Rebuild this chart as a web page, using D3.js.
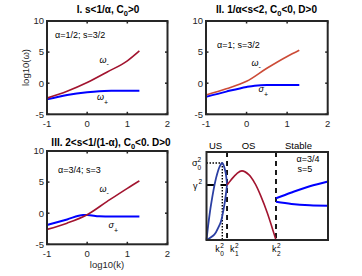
<!DOCTYPE html>
<html>
<head>
<meta charset="utf-8">
<script src="https://cdn.jsdelivr.net/npm/d3@7"></script>
<style>
  body { margin: 0; background: #fff; }
  svg { display: block; font-family: "Liberation Sans", Arial, sans-serif; }
</style>
</head>
<body>
<div id="chart"></div>
<script>
// axis ticks shared by panels I-III
const xTicks = [-1, 0, 1, 2];
const yTicks = [-5, 0, 5, 10];

// panel I : alpha=1/2, s=3/2
const logK1 = [-1, -0.5, 0, 0.5, 1, 1.3];
const omegaMinus1 = [-2.4, -1.3, 0.1, 1.8, 3.6, 5.2];
const logKp1 = [-1, -0.5, 0, 0.3, 0.6, 1, 1.3];
const omegaPlus1 = [-2.6, -1.9, -1.45, -1.28, -1.22, -1.2, -1.2];

// panel II : alpha=1, s=3/2
const logK2 = [-1, -0.5, 0, 0.5, 1, 1.3];
const omegaMinus2 = [-1.9, -0.9, 0.3, 2.4, 4.3, 5.3];
const logKp2 = [-1, -0.5, 0, 0.2, 0.5, 1, 1.3];
const sigmaPlus2 = [-2.2, -1.35, -0.6, -0.4, -0.3, -0.3, -0.3];

// panel III : alpha=3/4, s=3
const logK3 = [-1, -0.5, 0, 0.5, 1, 1.3];
const omegaMinus3 = [-2.6, -1.6, -0.25, 1.9, 4.0, 5.2];
const logKp3 = [-1, -0.5, -0.1, 0, 0.3, 0.6, 1, 1.3];
const sigmaPlus3 = [-1.9, -1.0, -0.3, -0.3, -0.5, -0.55, -0.55, -0.55];

// panel IV : alpha=3/4, s=5 (k^2 vs growth rate, arbitrary units 0..10)
const k0 = 1.3, k1 = 1.69, k2 = 5.72;
const sigma0 = 8.75, gamma = 6.25;
const lensUpperK = [0, 0.15, 0.37, 0.78, 1.1, 1.3, 1.55, 1.69];
const lensUpperS = [0, 1.8, 4.0, 7.0, 8.4, 8.75, 7.8, 6.25];
const lensLowerK = [0, 0.64, 1.0, 1.19, 1.47, 1.66, 1.69];
const lensLowerS = [0, 0.6, 1.5, 2.1, 4.0, 5.9, 6.25];
const osK = [1.69, 2.0, 2.5, 2.92, 3.5, 4.0, 4.5, 5.0, 5.4, 5.72];
const osS = [6.25, 6.8, 7.55, 7.85, 7.4, 6.4, 4.9, 3.1, 1.4, 0];
const stableK = [5.72, 7, 8.5, 10];
const stableUpper = [4.75, 5.4, 6.1, 6.65];
const stableLower = [4.35, 4.1, 3.95, 3.9];

const width = 362, height = 276;
const frameColor = '#262626';
const darkRed = '#A2142F';
const brickRed = '#CC4B37';

const svg = d3.select('#chart').append('svg')
  .attr('width', width)
  .attr('height', height);

svg.append('rect').attr('width', width).attr('height', height).attr('fill', '#fff');

const zip = (xs, ys) => xs.map((x, i) => [x, ys[i]]);

function drawLine(g, x, y, pts, color, w, curve) {
  g.append('path')
    .datum(pts)
    .attr('fill', 'none')
    .attr('stroke', color)
    .attr('stroke-width', w)
    .attr('stroke-linejoin', 'round')
    .attr('d', d3.line().x(d => x(d[0])).y(d => y(d[1])).curve(curve || d3.curveMonotoneX));
}

// text with a sub script
function label(g, px, py, main, sub, opts = {}) {
  const t = g.append('text')
    .attr('x', px).attr('y', py)
    .style('font-size', (opts.size || 9) + 'px')
    .style('font-style', opts.italic ? 'italic' : 'normal')
    .attr('fill', '#000')
    .text(main);
  if (sub) {
    t.append('tspan').attr('dy', opts.dy || 4).style('font-size', '7px').style('font-style', 'normal').text(sub);
  }
  return t;
}

// frame + inward ticks, MATLAB "box on"
function frame(x, y, withTicks) {
  const g = svg.append('g');
  const [x0, x1] = x.range();
  const [y0, y1] = y.range();
  if (withTicks) {
    xTicks.forEach(t => {
      g.append('line').attr('x1', x(t)).attr('x2', x(t)).attr('y1', y0).attr('y2', y0 - 2.5)
        .attr('stroke', frameColor).attr('stroke-width', 1.5);
      g.append('line').attr('x1', x(t)).attr('x2', x(t)).attr('y1', y1).attr('y2', y1 + 2.5)
        .attr('stroke', frameColor).attr('stroke-width', 1.5);
      g.append('text').attr('x', x(t)).attr('y', y0 + 13)
        .attr('text-anchor', 'middle').style('font-size', '9.5px').attr('fill', frameColor)
        .text(t);
    });
    yTicks.forEach(t => {
      g.append('line').attr('x1', x0).attr('x2', x0 + 2.5).attr('y1', y(t)).attr('y2', y(t))
        .attr('stroke', frameColor).attr('stroke-width', 1.5);
      g.append('line').attr('x1', x1).attr('x2', x1 - 2.5).attr('y1', y(t)).attr('y2', y(t))
        .attr('stroke', frameColor).attr('stroke-width', 1.5);
      g.append('text').attr('x', x0 - 3).attr('y', y(t) + 3.3)
        .attr('text-anchor', 'end').style('font-size', '9.5px').attr('fill', frameColor)
        .text(t);
    });
  }
  g.append('rect')
    .attr('x', x0).attr('y', y1)
    .attr('width', x1 - x0).attr('height', y0 - y1)
    .attr('fill', 'none').attr('stroke', frameColor).attr('stroke-width', 2);
  return g;
}

function title(cx, cy, before, sub, after) {
  const t = svg.append('text')
    .attr('x', cx).attr('y', cy)
    .attr('text-anchor', 'middle')
    .style('font-size', '10px').style('font-weight', 'bold')
    .attr('fill', '#000')
    .text(before);
  t.append('tspan').attr('dy', 3).style('font-size', '7.5px').text(sub);
  t.append('tspan').attr('dy', -3).text(after);
}

// ---------- Panel I ----------
const x1s = d3.scaleLinear().domain([-1, 2]).range([47, 167.5]);
const y1s = d3.scaleLinear().domain([-5, 10]).range([114.3, 21]);
const p1 = svg.append('g');
drawLine(p1, x1s, y1s, zip(logKp1, omegaPlus1), 'blue', 2);
drawLine(p1, x1s, y1s, zip(logK1, omegaMinus1), darkRed, 1.6);
frame(x1s, y1s, true);
label(p1, 55, 38, 'α=1/2; s=3/2', null);
label(p1, 99.5, 62.5, 'ω', '-', { italic: true, dy: 3 });
label(p1, 97, 100, 'ω', '+', { italic: true, dy: 5 });
title(108, 12.5, 'I. s<1/α, C', '0', '>0');
svg.append('text')
  .attr('transform', 'translate(29,67.5) rotate(-90)')
  .attr('text-anchor', 'middle')
  .style('font-size', '9.5px').attr('fill', frameColor)
  .text('log10(ω)');

// ---------- Panel II ----------
const x2s = d3.scaleLinear().domain([-1, 2]).range([206, 327.7]);
const y2s = d3.scaleLinear().domain([-5, 10]).range([114.3, 21]);
const p2 = svg.append('g');
drawLine(p2, x2s, y2s, zip(logK2, omegaMinus2), brickRed, 1.6);
drawLine(p2, x2s, y2s, zip(logKp2, sigmaPlus2), 'blue', 2);
frame(x2s, y2s, true);
label(p2, 217, 47.5, 'α=1; s=3/2', null);
label(p2, 251.5, 66, 'ω', '-', { italic: true, dy: 3 });
label(p2, 258.5, 91.5, 'σ', '+', { italic: true, dy: 5 });
title(266.5, 12.5, 'II. 1/α<s<2, C', '0', '<0, D>0');

// ---------- Panel III ----------
const x3s = d3.scaleLinear().domain([-1, 2]).range([47, 167.5]);
const y3s = d3.scaleLinear().domain([-5, 10]).range([244.3, 151]);
const p3 = svg.append('g');
drawLine(p3, x3s, y3s, zip(logKp3, sigmaPlus3), 'blue', 2);
drawLine(p3, x3s, y3s, zip(logK3, omegaMinus3), darkRed, 1.6);
frame(x3s, y3s, true);
label(p3, 58, 173, 'α=3/4; s=3', null);
label(p3, 99.5, 192, 'ω', '-', { italic: true, dy: 3 });
label(p3, 108.5, 227.5, 'σ', '+', { italic: true, dy: 5 });
title(111, 146, 'III. 2<s<1/(1-α), C', '0', '<0. D>0');
svg.append('text')
  .attr('x', 107).attr('y', 268)
  .attr('text-anchor', 'middle')
  .style('font-size', '9.5px').attr('fill', frameColor)
  .text('log10(k)');

// ---------- Panel IV ----------
const x4s = d3.scaleLinear().domain([0, 10]).range([206.5, 328]);
const y4s = d3.scaleLinear().domain([0, 10]).range([240, 152]);
const p4 = svg.append('g');

// guide lines
p4.append('line')
  .attr('x1', x4s(0)).attr('x2', x4s(k0)).attr('y1', y4s(sigma0)).attr('y2', y4s(sigma0))
  .attr('stroke', '#000').attr('stroke-width', 1.4).attr('stroke-dasharray', '1.5,1.5');
p4.append('line')
  .attr('x1', x4s(k0)).attr('x2', x4s(k0)).attr('y1', y4s(sigma0)).attr('y2', y4s(0))
  .attr('stroke', '#000').attr('stroke-width', 1.4).attr('stroke-dasharray', '1.5,1.5');
p4.append('line')
  .attr('x1', x4s(0)).attr('x2', x4s(k1)).attr('y1', y4s(gamma)).attr('y2', y4s(gamma))
  .attr('stroke', '#000').attr('stroke-width', 1.8).attr('stroke-dasharray', '8,6');
[k1, k2].forEach(k => {
  p4.append('line')
    .attr('x1', x4s(k)).attr('x2', x4s(k)).attr('y1', y4s(10)).attr('y2', y4s(0))
    .attr('stroke', '#000').attr('stroke-width', 1.8).attr('stroke-dasharray', '5,4');
});

drawLine(p4, x4s, y4s, zip(lensUpperK, lensUpperS), '#2B3FA3', 1.8, d3.curveCatmullRom);
drawLine(p4, x4s, y4s, zip(lensLowerK, lensLowerS), '#2B3FA3', 1.8, d3.curveCatmullRom);
drawLine(p4, x4s, y4s, zip(osK, osS), darkRed, 1.6, d3.curveCatmullRom);
drawLine(p4, x4s, y4s, zip(stableK, stableUpper), 'blue', 2, d3.curveCatmullRom);
drawLine(p4, x4s, y4s, zip(stableK, stableLower), 'blue', 2, d3.curveCatmullRom);
frame(x4s, y4s, false);

// region names
[['US', 215.5], ['OS', 248.5], ['Stable', 298.5]].forEach(([txt, cx]) => {
  svg.append('text').attr('x', cx).attr('y', 148.5)
    .attr('text-anchor', 'middle').style('font-size', '9.5px').attr('fill', '#000')
    .text(txt);
});
svg.append('text').attr('x', 308).attr('y', 162)
  .attr('text-anchor', 'middle').style('font-size', '9px').text('α=3/4');
svg.append('text').attr('x', 305).attr('y', 171.5)
  .attr('text-anchor', 'middle').style('font-size', '9px').text('s=5');

// stacked super/sub labels on the axes
function stacked(px, py, main, sup, sub) {
  svg.append('text').attr('x', px).attr('y', py).style('font-size', '9px').text(main);
  const w = main === 'k' ? 5 : 5.5;
  if (sup) svg.append('text').attr('x', px + w).attr('y', py - 4.5).style('font-size', '6.5px').text(sup);
  if (sub) svg.append('text').attr('x', px + w).attr('y', py + 3.5).style('font-size', '6.5px').text(sub);
}
stacked(192, 166, 'σ', '2', '0');
stacked(193, 188.5, 'γ', '2', null);
stacked(x4s(k0) - 7, 252, 'k', '2', '0');
stacked(x4s(k1) + 3, 252, 'k', '2', '1');
stacked(x4s(k2) - 4, 252, 'k', '2', '2');
</script>
</body>
</html>
